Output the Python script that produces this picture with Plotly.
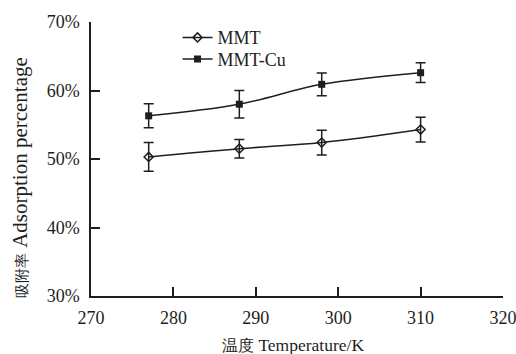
import plotly.graph_objects as go

temperature = [277, 288, 298, 310]
mmt = [50.3, 51.5, 52.4, 54.3]
mmt_err = [2.1, 1.35, 1.8, 1.8]
mmt_cu = [56.3, 58.0, 60.9, 62.6]
mmt_cu_err = [1.75, 2.0, 1.65, 1.45]
x_ticks = [270, 280, 290, 300, 310, 320]
y_ticks = [30, 40, 50, 60, 70]
y_tick_text = [f"{v}%" for v in y_ticks]

ink = "#1e1e1e"
font = "Liberation Serif, Times New Roman, serif"

fig = go.Figure()
fig.add_trace(go.Scatter(
    x=temperature, y=mmt, name="MMT", mode="lines+markers", legend="legend",
    line=dict(color=ink, width=1.5, shape="spline"),
    marker=dict(symbol="diamond-open", size=7, color=ink, line=dict(width=1.5, color=ink)),
    error_y=dict(type="data", array=mmt_err, color=ink, thickness=1.5, width=5),
))
fig.add_trace(go.Scatter(
    x=temperature, y=mmt_cu, name="MMT-Cu", mode="lines+markers", legend="legend2",
    line=dict(color=ink, width=1.5, shape="spline"),
    marker=dict(symbol="square", size=7, color=ink),
    error_y=dict(type="data", array=mmt_cu_err, color=ink, thickness=1.5, width=5),
))

legend_style = dict(xanchor="left", yanchor="middle", bgcolor="rgba(0,0,0,0)",
                    font=dict(size=18, family=font, color=ink), itemwidth=30)

fig.update_layout(
    width=516, height=354,
    margin=dict(l=91, r=13, t=22, b=58),
    paper_bgcolor="white", plot_bgcolor="white",
    font=dict(family=font, size=18, color=ink),
    showlegend=True,
    legend=dict(x=0.21, y=0.9427, **legend_style),
    legend2=dict(x=0.21, y=0.8639, **legend_style),
    annotations=[
        dict(text="<span style='font-size:15px'>吸附率</span> Adsorption percentage",
             xref="paper", yref="paper", x=-0.172, y=0.4307,
             xanchor="center", yanchor="middle", textangle=-90, showarrow=False,
             font=dict(size=21, family=font, color=ink)),
        dict(text="<span style='font-size:16px'>温度</span> Temperature/K",
             xref="paper", yref="paper", x=0.490, y=-0.179,
             xanchor="center", yanchor="middle", showarrow=False,
             font=dict(size=17.5, family=font, color=ink)),
    ],
)
fig.update_xaxes(
    range=[270, 320], tickvals=x_ticks, ticks="inside", ticklen=9, tickwidth=1.5,
    tickcolor=ink, showline=True, linecolor=ink, linewidth=1.5, showgrid=False,
    zeroline=False, tickfont=dict(size=18), ticklabeloverflow="allow",
    ticklabelstandoff=5, automargin=False,
)
fig.update_yaxes(
    range=[30, 70], tickvals=y_ticks, ticktext=y_tick_text, ticks="inside", ticklen=9,
    tickwidth=1.5, tickcolor=ink, showline=True, linecolor=ink, linewidth=1.5,
    showgrid=False, zeroline=False, tickfont=dict(size=18), ticklabelstandoff=6,
    automargin=False,
)

fig.write_html("out.html")
